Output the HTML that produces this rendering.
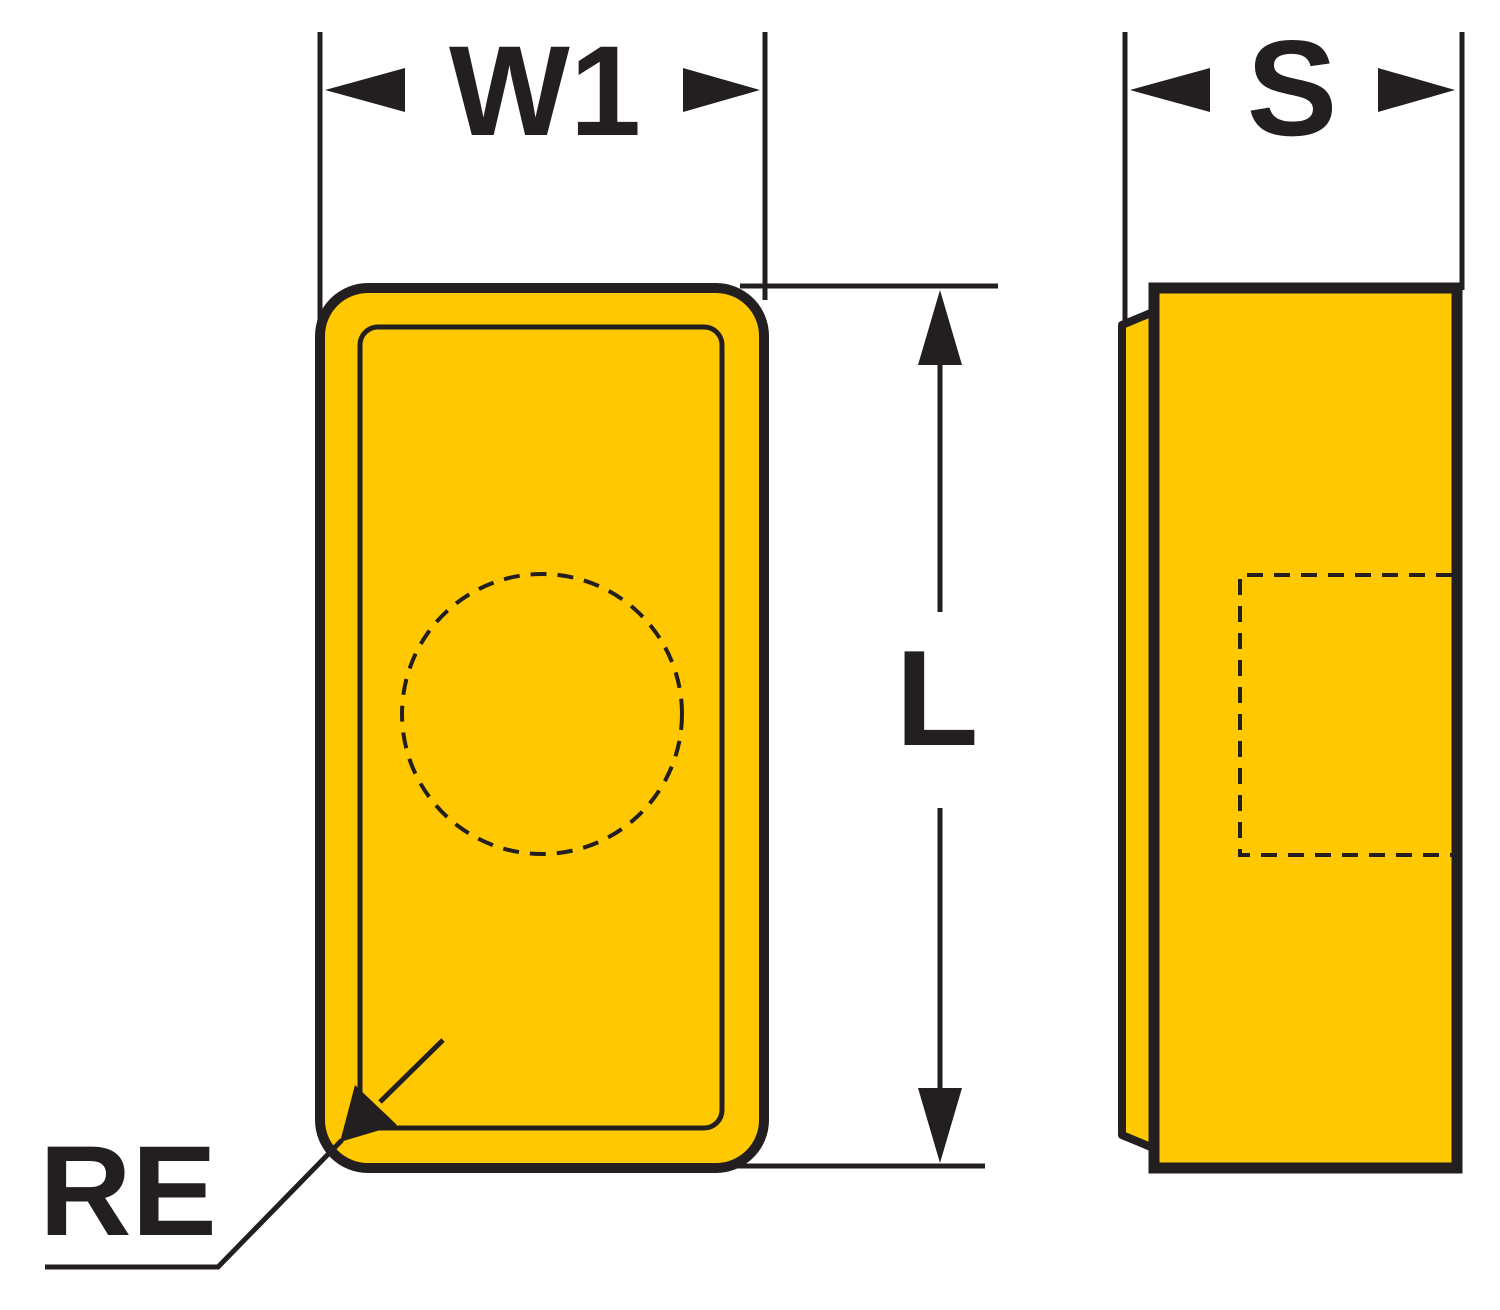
<!DOCTYPE html>
<html><head><meta charset="utf-8"><style>
html,body{margin:0;padding:0;background:#fff;}
svg{display:block;}
text{font-family:"Liberation Sans",sans-serif;font-weight:bold;fill:#231f20;}
</style></head><body>
<svg width="1500" height="1310" viewBox="0 0 1500 1310" xmlns="http://www.w3.org/2000/svg">
<g stroke="#231f20" fill="none">
<line x1="320" y1="32" x2="320" y2="320" stroke-width="5"/>
<line x1="765" y1="32" x2="765" y2="300" stroke-width="5"/>
<line x1="1125" y1="32" x2="1125" y2="330" stroke-width="5"/>
<line x1="1462" y1="32" x2="1462" y2="290" stroke-width="5"/>
<line x1="740" y1="286" x2="998" y2="286" stroke-width="5"/>
<line x1="720" y1="1166" x2="985" y2="1166" stroke-width="5"/>
<line x1="940" y1="360" x2="940" y2="612" stroke-width="5"/>
<line x1="940" y1="808" x2="940" y2="1095" stroke-width="5"/>
</g>
<g fill="#231f20">
<polygon points="325,90 405,68 405,112"/>
<polygon points="760,90 683,68 683,112"/>
<polygon points="1130,90 1210,68 1210,112"/>
<polygon points="1455,90 1378,68 1378,112"/>
<polygon points="940,290 918,365 962,365"/>
<polygon points="940,1163 918,1088 962,1088"/>
</g>
<text x="545" y="135" font-size="128" text-anchor="middle">W1</text>
<text x="1292" y="135" font-size="136" text-anchor="middle">S</text>
<text x="937" y="745" font-size="136" text-anchor="middle">L</text>
<text x="128" y="1235" font-size="128" text-anchor="middle">RE</text>

<rect x="320" y="288" width="444" height="880" rx="48" fill="#ffc800" stroke="#231f20" stroke-width="10"/>
<rect x="360" y="327" width="362" height="801" rx="18" fill="none" stroke="#231f20" stroke-width="5"/>
<circle cx="542" cy="714" r="140" fill="none" stroke="#231f20" stroke-width="4" stroke-dasharray="16,11"/>

<polygon points="1158,310 1122,325 1122,1135 1158,1150" fill="#ffc800" stroke="#231f20" stroke-width="8" stroke-linejoin="round"/>
<rect x="1154" y="288" width="303" height="880" fill="#ffc800" stroke="#231f20" stroke-width="11"/>
<path d="M1452,575 H1240 V855 H1452" fill="none" stroke="#231f20" stroke-width="4" stroke-dasharray="16,11"/>

<g stroke="#231f20" fill="none" stroke-width="5">
<line x1="443" y1="1040" x2="380" y2="1102"/>
<polyline points="342,1140 218,1267 45,1267"/>
</g>
<polygon points="340,1142 355,1085 397,1125" fill="#231f20"/>
</svg>
</body></html>
